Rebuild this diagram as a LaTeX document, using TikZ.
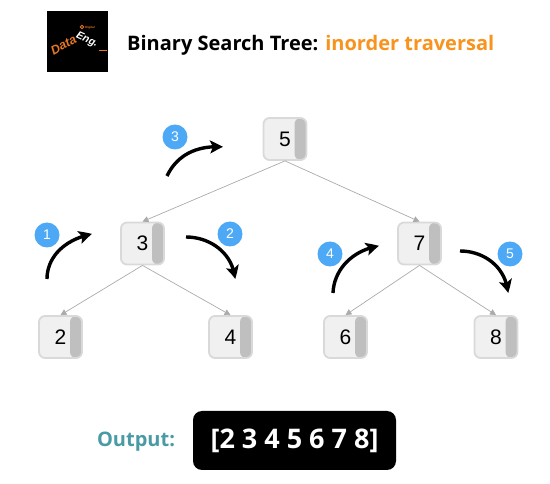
\documentclass[tikz,border=0pt]{standalone}
\usepackage{fontspec}
\setmainfont{Liberation Sans}
\newfontfamily\titlefont{Open Sans}
\usetikzlibrary{arrows.meta,bending}
\definecolor{boxfill}{HTML}{F0F0F0}
\definecolor{boxline}{HTML}{D9D9D9}
\definecolor{barfill}{HTML}{BFBFBF}
\definecolor{edgecol}{HTML}{ABABAB}
\definecolor{badge}{HTML}{4DA9F5}
\definecolor{orangeT}{HTML}{F7931E}
\definecolor{logoO}{HTML}{E87722}
\definecolor{tealT}{HTML}{4A9AA5}
\tikzset{
  x=1pt,y=-1pt,
  treenode/.style={draw=boxline,line width=1.8pt,fill=boxfill,rounded corners=6pt,
    minimum width=43pt,minimum height=42pt,inner sep=0pt,text=black,font=\fontsize{21}{21}\selectfont,
    path picture={\fill[barfill] ([xshift=-12pt]path picture bounding box.north east) rectangle (path picture bounding box.south east);}},
  edgeline/.style={draw=edgecol,line width=0.7pt,-{Triangle[length=6pt,width=6pt,fill=edgecol]}},
  walk/.style={draw=black,line width=3.4pt,-{Stealth[length=13pt,width=13pt,inset=3pt,bend]}},
  stepbadge/.style={circle,fill=badge,text=white,minimum size=25pt,inner sep=0pt,font=\fontsize{14}{14}\selectfont},
}
\begin{document}
\begin{tikzpicture}
\useasboundingbox (0,0) rectangle (550,484);
% logo
\node[fill=black,minimum width=61pt,minimum height=61pt,inner sep=0pt] (logo) at (77.5,41.5) {};
\node[text=logoO,font=\bfseries\itshape\fontsize{12.5}{12.5}\selectfont,rotate=28,inner sep=0pt] (logoa) at (63.5,45) {Data};
\node[text=white,font=\bfseries\itshape\fontsize{10.5}{10.5}\selectfont,rotate=-25,inner sep=0pt] (logob) at (87,40) {Eng.};
\node[text=logoO,font=\bfseries\fontsize{3}{3}\selectfont,inner sep=0pt] (logoc) at (90,27.5) {Digital};
\node[circle,draw=logoO,line width=0.8pt,minimum size=3.5pt,inner sep=0pt] (logod) at (82,27) {};
\coordinate (logoe) at (99,50.5);
\coordinate (logof) at (107,50.5);
\draw[logoO,line width=1pt] (logoe) -- (logof);
% title
\node[anchor=west,inner sep=0pt,font=\titlefont\bfseries\fontsize{20}{20}\selectfont] (title) at (127,45) {Binary Search Tree: \textcolor{orangeT}{inorder traversal}};
% tree
\node[treenode] (n5) at (285,139) {5};
\node[treenode] (n3) at (142.5,243.5) {3};
\node[treenode] (n7) at (419.5,243.5) {7};
\node[treenode] (n2) at (60.5,337) {2};
\node[treenode] (n4) at (230.5,337) {4};
\node[treenode] (n6) at (345.5,337) {6};
\node[treenode] (n8) at (496,337) {8};
\draw[edgeline] (n5.south) -- (n3.north);
\draw[edgeline] (n5.south) -- (n7.north);
\draw[edgeline] (n3.south) -- (n2.north);
\draw[edgeline] (n3.south) -- (n4.north);
\draw[edgeline] (n7.south) -- (n6.north);
\draw[edgeline] (n7.south) -- (n8.north);
% walk arrows
\coordinate (a1) at (47,279);
\coordinate (b1) at (92,234);
\coordinate (a2) at (186,237);
\coordinate (b2) at (235,279);
\coordinate (a3) at (167,176);
\coordinate (b3) at (223,147);
\coordinate (a4) at (333,293);
\coordinate (b4) at (379,246);
\coordinate (a5) at (460,251);
\coordinate (b5) at (508,293);
\draw[walk] (a1) .. controls (47,256) and (66,239) .. (b1);
\draw[walk] (a2) .. controls (210,237) and (233,253) .. (b2);
\draw[walk] (a3) .. controls (177,155) and (197,145) .. (b3);
\draw[walk] (a4) .. controls (334,269) and (353,250) .. (b4);
\draw[walk] (a5) .. controls (484,251) and (506,267) .. (b5);
\node[stepbadge] (s1) at (47,235) {1};
\node[stepbadge] (s2) at (230,234) {2};
\node[stepbadge] (s3) at (175,137) {3};
\node[stepbadge] (s4) at (330,254) {4};
\node[stepbadge] (s5) at (510,254) {5};
% output
\node[text=tealT,inner sep=0pt,font=\titlefont\bfseries\fontsize{20}{20}\selectfont] (outl) at (136,442) {Output:};
\node[fill=black,rounded corners=9pt,minimum width=203pt,minimum height=59pt,inner sep=0pt,text=white,font=\titlefont\bfseries\fontsize{27}{27}\selectfont] (outv) at (294.5,440.5) {[2 3 4 5 6 7 8]};
\end{tikzpicture}
\end{document}
